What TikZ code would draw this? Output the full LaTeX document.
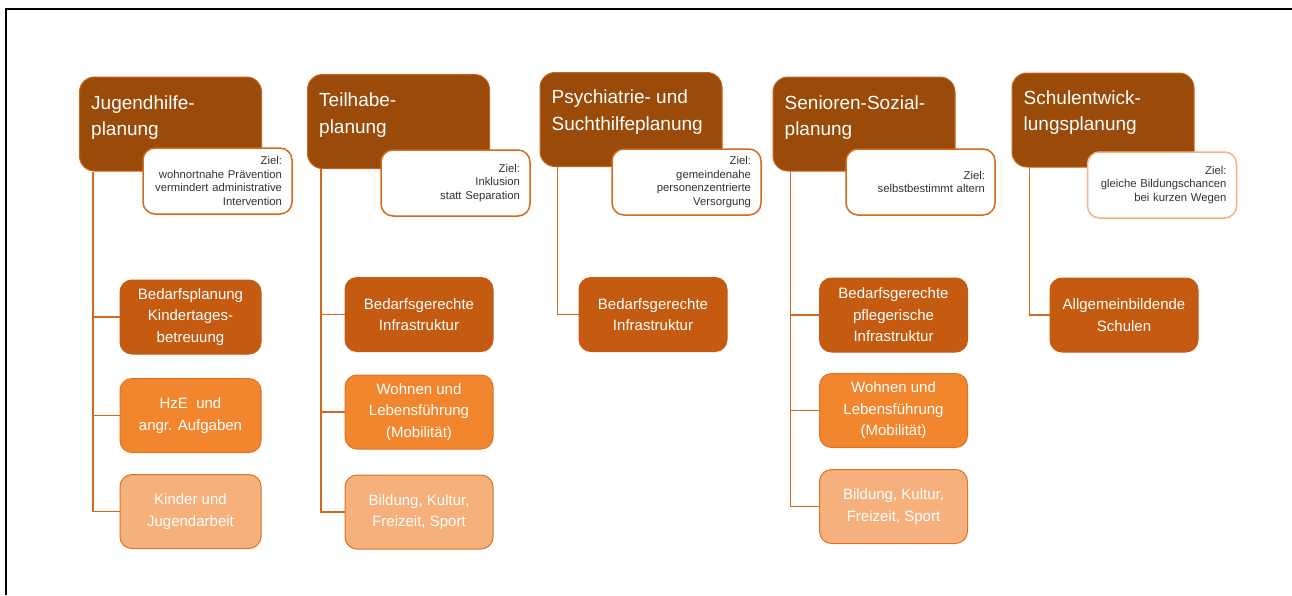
\documentclass[tikz,border=0pt]{standalone}
\usepackage{fontspec}
\setmainfont{Liberation Sans}
\usetikzlibrary{positioning}
\definecolor{headbrown}{HTML}{9A4A09}
\definecolor{headedge}{HTML}{C8641C}
\definecolor{goaledge}{HTML}{D06A1E}
\definecolor{goaledgelight}{HTML}{F4B183}
\definecolor{goaltext}{HTML}{333333}
\definecolor{taskdark}{HTML}{C55A11}
\definecolor{taskmid}{HTML}{F2862E}
\definecolor{tasklight}{HTML}{F5B07C}
\definecolor{taskedge}{HTML}{DC7424}
\definecolor{treeline}{HTML}{D06A1E}

\begin{document}
\begin{tikzpicture}[x=1pt,y=-1pt,
  head/.style={draw=headedge,fill=headbrown,line width=1pt,rounded corners=15pt,
    minimum width=182pt,minimum height=94pt},
  headtext/.style={anchor=north west,inner sep=0pt,align=left,text=white,
    font=\fontsize{19}{26.5}\selectfont},
  goal/.style={draw=goaledge,fill=white,line width=1.5pt,rounded corners=12pt,
    minimum height=66pt,text width=129pt,inner xsep=10pt,align=right,
    text=goaltext,font=\fontsize{11.3}{13.6}\selectfont},
  task/.style={rounded corners=12pt,line width=1pt,minimum width=148pt,
    minimum height=74pt,align=center,text=white,font=\fontsize{15}{21.5}\selectfont},
  taskA/.style={task,fill=taskdark,draw=taskdark},
  taskB/.style={task,fill=taskmid,draw=taskedge},
  taskC/.style={task,fill=tasklight,draw=taskedge},
  tree/.style={draw=treeline,line width=1.8pt}]
  \useasboundingbox (0,0) rectangle (1292,595);
  \draw[line width=1.5pt] (1292,9) -- (6,9) -- (6,595);

  \node[head] (h1) at (170.5,124) {};
  \node[headtext] (ht1) at ([shift={(12,19)}]h1.north west) {Jugendhilfe-\\planung};
  \node[goal] (z1) at (217.5,181) {Ziel:\\wohnortnahe Prävention\\vermindert administrative\\Intervention};
  \node[head] (h2) at (398.5,121.5) {};
  \node[headtext] (ht2) at ([shift={(12,19)}]h2.north west) {Teilhabe-\\planung};
  \node[goal] (z2) at (455.5,183) {Ziel:\\Inklusion\\statt Separation};
  \node[head] (h3) at (631,119.5) {};
  \node[headtext] (ht3) at ([shift={(12,18)}]h3.north west) {Psychiatrie- und\\Suchthilfeplanung};
  \node[goal] (z3) at (686.5,182) {Ziel:\\gemeindenahe\\personenzentrierte\\Versorgung};
  \node[head] (h4) at (864,124) {};
  \node[headtext] (ht4) at ([shift={(12,19)}]h4.north west) {Senioren-Sozial-\\planung};
  \node[goal] (z4) at (920.5,182) {Ziel:\\selbstbestimmt altern};
  \node[head] (h5) at (1103,120) {};
  \node[headtext] (ht5) at ([shift={(12,18)}]h5.north west) {Schulentwick-\\lungsplanung};
  \node[goal,draw=goaledgelight] (z5) at (1162,185) {Ziel:\\gleiche Bildungschancen\\bei kurzen Wegen};

  \node[taskA,minimum width=141pt] (b11) at (190.5,317) {Bedarfsplanung\\Kindertages-\\betreuung};
  \node[taskB,minimum width=141pt] (b12) at (190.5,415.5) {HzE\ \ und\\angr. Aufgaben};
  \node[taskC,minimum width=141pt] (b13) at (190.5,511.5) {Kinder und\\Jugendarbeit};
  \node[taskA] (b21) at (419,314.5) {Bedarfsgerechte\\Infrastruktur};
  \node[taskB] (b22) at (419,412) {Wohnen und\\Lebensführung\\(Mobilität)};
  \node[taskC] (b23) at (419,512) {Bildung, Kultur,\\Freizeit, Sport};
  \node[taskA] (b31) at (653,314.5) {Bedarfsgerechte\\Infrastruktur};
  \node[taskA] (b41) at (893.5,315) {Bedarfsgerechte\\pflegerische\\Infrastruktur};
  \node[taskB] (b42) at (893.5,410.5) {Wohnen und\\Lebensführung\\(Mobilität)};
  \node[taskC] (b43) at (893.5,506.5) {Bildung, Kultur,\\Freizeit, Sport};
  \node[taskA] (b51) at (1124,315) {Allgemeinbildende\\Schulen};

  \coordinate (v1) at ([xshift=14]h1.south west);
  \coordinate (v2) at ([xshift=14]h2.south west);
  \coordinate (v3) at ([xshift=18]h3.south west);
  \coordinate (v4) at ([xshift=18]h4.south west);
  \coordinate (v5) at ([xshift=18]h5.south west);
  \draw[tree] (v1) |- (b13.west);
  \draw[tree] (b11.west) -- (b11.west -| v1);
  \draw[tree] (b12.west) -- (b12.west -| v1);
  \draw[tree] (v2) |- (b23.west);
  \draw[tree] (b21.west) -- (b21.west -| v2);
  \draw[tree] (b22.west) -- (b22.west -| v2);
  \draw[tree] (v3) |- (b31.west);
  \draw[tree] (v4) |- (b43.west);
  \draw[tree] (b41.west) -- (b41.west -| v4);
  \draw[tree] (b42.west) -- (b42.west -| v4);
  \draw[tree] (v5) |- (b51.west);
\end{tikzpicture}
\end{document}
